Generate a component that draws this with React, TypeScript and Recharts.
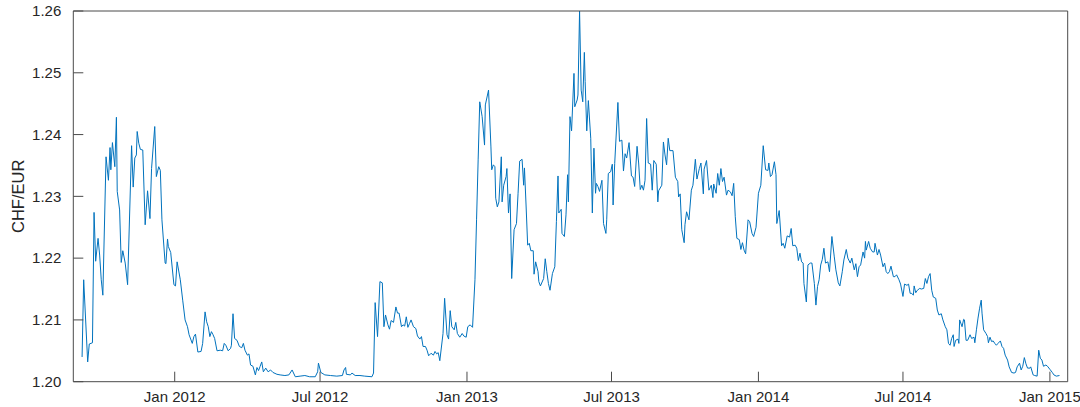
import React from 'react';
import { LineChart, Line, XAxis, YAxis } from 'recharts';

// x values: days since 1 Jan 2012
const dayOffsets = [
  -116, -114, -109, -107, -103, -101, -99, -96, -94, -92, -90, -86, -83, -81, -80, -78, -75, -73, -72, -69,
  -67, -65, -62, -59, -54, -52, -50, -48, -47, -45, -43, -40, -37, -34, -31, -29, -25, -23, -20, -18,
  -16, -12, -11, -9, -8, -5, -1, 1, 3, 7, 10, 13, 16, 18, 22, 24, 26, 29, 33, 35,
  38, 40, 42, 44, 46, 48, 50, 53, 57, 60, 62, 64, 67, 70, 71, 73, 75, 78, 81, 84,
  86, 88, 91, 93, 95, 98, 101, 103, 105, 107, 109, 111, 114, 117, 120, 123, 128, 132, 138, 143,
  147, 151, 157, 163, 169, 176, 179, 180, 183, 188, 195, 203, 210, 212, 214, 215, 220, 222, 226, 232,
  238, 247, 249, 251, 254, 257, 260, 262, 264, 267, 269, 271, 274, 277, 279, 281, 284, 286, 288, 290,
  292, 294, 296, 299, 302, 304, 307, 309, 311, 314, 316, 318, 321, 324, 326, 328, 330, 332, 336, 338,
  341, 343, 345, 347, 350, 352, 354, 357, 360, 362, 365, 367, 370, 373, 376, 378, 380, 382, 385, 388,
  389, 393, 396, 397, 399, 401, 402, 404, 406, 409, 410, 412, 415, 416, 418, 420, 422, 425, 428, 430,
  432, 435, 437, 438, 440, 442, 444, 446, 449, 450, 452, 455, 456, 458, 462, 464, 466, 468, 470, 473,
  476, 478, 480, 481, 484, 485, 488, 490, 492, 493, 495, 497, 500, 501, 504, 505, 507, 509, 511, 513,
  514, 516, 518, 521, 523, 525, 527, 528, 530, 532, 535, 537, 540, 541, 543, 546, 548, 549, 551, 555,
  557, 560, 562, 564, 566, 569, 572, 574, 576, 579, 581, 583, 585, 587, 589, 591, 593, 596, 598, 600,
  603, 605, 606, 610, 612, 614, 616, 618, 620, 624, 627, 630, 631, 633, 635, 638, 639, 641, 644, 647,
  649, 652, 654, 657, 659, 662, 663, 666, 669, 672, 674, 675, 678, 680, 682, 684, 686, 688, 691, 693,
  696, 698, 700, 702, 704, 707, 709, 711, 713, 715, 718, 720, 723, 725, 728, 731, 734, 737, 740, 743,
  744, 746, 748, 751, 753, 754, 757, 760, 762, 764, 767, 770, 772, 774, 777, 779, 781, 783, 785, 787,
  788, 791, 793, 796, 798, 801, 803, 805, 807, 809, 811, 813, 815, 818, 820, 823, 826, 828, 831, 833,
  836, 838, 841, 843, 846, 848, 851, 853, 855, 857, 859, 862, 864, 865, 866, 869, 871, 874, 876, 877,
  880, 882, 884, 887, 889, 891, 893, 895, 897, 900, 902, 904, 907, 909, 912, 914, 917, 919, 921, 923,
  925, 926, 928, 930, 933, 935, 938, 940, 942, 944, 946, 948, 950, 953, 955, 957, 960, 962, 965, 967,
  969, 971, 973, 975, 976, 978, 981, 982, 983, 986, 988, 989, 991, 993, 996, 998, 1001, 1002, 1004, 1006,
  1008, 1010, 1011, 1013, 1016, 1018, 1019, 1021, 1023, 1025, 1027, 1029, 1031, 1034, 1036, 1038, 1040, 1043, 1045, 1048,
  1051, 1053, 1055, 1058, 1060, 1062, 1064, 1066, 1068, 1071, 1072, 1075, 1077, 1080, 1082, 1084, 1086, 1088, 1091, 1093,
  1096, 1099, 1101, 1104, 1108,
];

const chfPerEur = [
  1.2040, 1.2165, 1.2032, 1.2061, 1.2063, 1.2274, 1.2195, 1.2232, 1.2205, 1.2165, 1.2140, 1.2364, 1.2326, 1.2379, 1.2343, 1.2387, 1.2348, 1.2428, 1.2308, 1.2278,
  1.2193, 1.2212, 1.2192, 1.2157, 1.2382, 1.2315, 1.2362, 1.2367, 1.2405, 1.2386, 1.2376, 1.2375, 1.2254, 1.2309, 1.2264, 1.2345, 1.2413, 1.2332, 1.2348, 1.2342,
  1.2262, 1.2192, 1.2191, 1.2231, 1.2219, 1.2209, 1.2157, 1.2155, 1.2194, 1.2165, 1.2132, 1.2100, 1.2089, 1.2076, 1.2062, 1.2073, 1.2077, 1.2048, 1.2049, 1.2062,
  1.2113, 1.2097, 1.2089, 1.2073, 1.2081, 1.2076, 1.2070, 1.2050, 1.2051, 1.2050, 1.2062, 1.2059, 1.2050, 1.2054, 1.2059, 1.2110, 1.2070, 1.2067, 1.2057, 1.2055,
  1.2062, 1.2051, 1.2043, 1.2045, 1.2027, 1.2025, 1.2011, 1.2023, 1.2018, 1.2025, 1.2032, 1.2016, 1.2022, 1.2016, 1.2019, 1.2015, 1.2012, 1.2011, 1.2010, 1.2011,
  1.2019, 1.2008, 1.2009, 1.2010, 1.2008, 1.2008, 1.2016, 1.2030, 1.2015, 1.2011, 1.2010, 1.2009, 1.2010, 1.2019, 1.2023, 1.2012, 1.2011, 1.2014, 1.2010, 1.2010,
  1.2009, 1.2008, 1.2014, 1.2128, 1.2073, 1.2162, 1.2160, 1.2089, 1.2108, 1.2092, 1.2085, 1.2099, 1.2096, 1.2121, 1.2111, 1.2111, 1.2089, 1.2092, 1.2090, 1.2105,
  1.2088, 1.2094, 1.2100, 1.2089, 1.2086, 1.2074, 1.2069, 1.2073, 1.2057, 1.2057, 1.2051, 1.2042, 1.2046, 1.2043, 1.2049, 1.2045, 1.2047, 1.2034, 1.2078, 1.2135,
  1.2076, 1.2069, 1.2115, 1.2089, 1.2084, 1.2096, 1.2078, 1.2072, 1.2078, 1.2074, 1.2072, 1.2089, 1.2092, 1.2088, 1.2165, 1.2262, 1.2359, 1.2453, 1.2429, 1.2383,
  1.2448, 1.2472, 1.2380, 1.2343, 1.2351, 1.2348, 1.2297, 1.2283, 1.2291, 1.2364, 1.2291, 1.2318, 1.2332, 1.2345, 1.2273, 1.2304, 1.2167, 1.2246, 1.2256, 1.2305,
  1.2357, 1.2360, 1.2318, 1.2346, 1.2286, 1.2221, 1.2224, 1.2212, 1.2212, 1.2174, 1.2194, 1.2178, 1.2162, 1.2155, 1.2167, 1.2199, 1.2178, 1.2159, 1.2148, 1.2175,
  1.2186, 1.2259, 1.2333, 1.2273, 1.2279, 1.2240, 1.2235, 1.2270, 1.2335, 1.2291, 1.2429, 1.2406, 1.2499, 1.2445, 1.2456, 1.2464, 1.2600, 1.2472, 1.2453, 1.2533,
  1.2486, 1.2406, 1.2455, 1.2394, 1.2273, 1.2378, 1.2305, 1.2321, 1.2316, 1.2308, 1.2326, 1.2256, 1.2240, 1.2262, 1.2337, 1.2340, 1.2352, 1.2286, 1.2353, 1.2452,
  1.2389, 1.2391, 1.2341, 1.2369, 1.2362, 1.2387, 1.2333, 1.2331, 1.2316, 1.2381, 1.2354, 1.2311, 1.2318, 1.2310, 1.2326, 1.2426, 1.2354, 1.2352, 1.2310, 1.2358,
  1.2352, 1.2291, 1.2309, 1.2318, 1.2388, 1.2367, 1.2351, 1.2394, 1.2374, 1.2374, 1.2331, 1.2324, 1.2299, 1.2304, 1.2246, 1.2225, 1.2254, 1.2275, 1.2262, 1.2310,
  1.2318, 1.2360, 1.2328, 1.2345, 1.2354, 1.2304, 1.2344, 1.2358, 1.2310, 1.2318, 1.2298, 1.2320, 1.2305, 1.2337, 1.2318, 1.2345, 1.2324, 1.2331, 1.2302, 1.2310,
  1.2307, 1.2301, 1.2321, 1.2267, 1.2232, 1.2230, 1.2214, 1.2225, 1.2213, 1.2207, 1.2262, 1.2259, 1.2240, 1.2235, 1.2250, 1.2305, 1.2318, 1.2382, 1.2343, 1.2342,
  1.2354, 1.2332, 1.2335, 1.2356, 1.2335, 1.2256, 1.2277, 1.2220, 1.2224, 1.2216, 1.2236, 1.2234, 1.2248, 1.2220, 1.2221, 1.2216, 1.2196, 1.2208, 1.2194, 1.2192,
  1.2159, 1.2129, 1.2189, 1.2192, 1.2192, 1.2159, 1.2124, 1.2154, 1.2165, 1.2189, 1.2198, 1.2216, 1.2192, 1.2194, 1.2178, 1.2235, 1.2202, 1.2181, 1.2160, 1.2155,
  1.2178, 1.2197, 1.2214, 1.2200, 1.2192, 1.2200, 1.2181, 1.2191, 1.2170, 1.2186, 1.2189, 1.2210, 1.2200, 1.2227, 1.2213, 1.2227, 1.2216, 1.2210, 1.2210, 1.2224,
  1.2205, 1.2214, 1.2205, 1.2186, 1.2192, 1.2178, 1.2175, 1.2178, 1.2187, 1.2170, 1.2170, 1.2173, 1.2165, 1.2158, 1.2138, 1.2158, 1.2156, 1.2158, 1.2143, 1.2143,
  1.2140, 1.2155, 1.2144, 1.2148, 1.2151, 1.2150, 1.2151, 1.2167, 1.2159, 1.2170, 1.2175, 1.2148, 1.2137, 1.2135, 1.2116, 1.2108, 1.2110, 1.2100, 1.2089, 1.2084,
  1.2062, 1.2059, 1.2070, 1.2076, 1.2057, 1.2067, 1.2069, 1.2062, 1.2100, 1.2089, 1.2101, 1.2100, 1.2067, 1.2067, 1.2076, 1.2070, 1.2072, 1.2063, 1.2084, 1.2103,
  1.2119, 1.2132, 1.2111, 1.2084, 1.2078, 1.2073, 1.2063, 1.2072, 1.2065, 1.2066, 1.2062, 1.2059, 1.2062, 1.2066, 1.2057, 1.2054, 1.2043, 1.2035, 1.2024, 1.2015,
  1.2014, 1.2015, 1.2024, 1.2030, 1.2019, 1.2025, 1.2039, 1.2029, 1.2022, 1.2022, 1.2024, 1.2011, 1.2010, 1.2009, 1.2051, 1.2038, 1.2035, 1.2025, 1.2027, 1.2025,
  1.2020, 1.2015, 1.2011, 1.2009, 1.2010,
];

const xTickDays = [0, 182, 366, 547, 731, 912, 1096];
const xTickLabels = ['Jan 2012', 'Jul 2012', 'Jan 2013', 'Jul 2013', 'Jan 2014', 'Jul 2014', 'Jan 2015'];
const yTicks = [1.2, 1.21, 1.22, 1.23, 1.24, 1.25, 1.26];
const yLabel = 'CHF/EUR';

const data = dayOffsets.map((d, i) => ({ d, v: chfPerEur[i] }));

const FONT = '"Liberation Sans", Arial, Helvetica, sans-serif';
const TEXT = '#262626';
const AXIS = '#4a4a4a';
const tickStyle = { fontSize: 15, fill: TEXT, fontFamily: FONT };
const xDomain: [number, number] = [-127, 1118.3];
const yDomain: [number, number] = [1.2, 1.26];

const fmtX = (v: number) => {
  const i = xTickDays.indexOf(v);
  return i >= 0 ? xTickLabels[i] : '';
};

export default function App() {
  return (
    <div style={{ position: 'absolute', left: 0, top: 0, width: 1080, height: 407, background: '#fff' }}>
      <LineChart
        width={1080}
        height={407}
        data={data}
        margin={{ top: 10, right: 11.3, bottom: 0.3, left: 0.3 }}
      >
        <XAxis
          dataKey="d"
          type="number"
          domain={xDomain}
          allowDataOverflow
          ticks={xTickDays}
          interval={0}
          tickFormatter={fmtX}
          height={25}
          tickSize={-10}
          tickMargin={20}
          tick={tickStyle}
          stroke={AXIS}
          axisLine={{ stroke: AXIS }}
          tickLine={{ stroke: AXIS }}
        />
        <XAxis
          xAxisId="top"
          dataKey="d"
          type="number"
          orientation="top"
          domain={xDomain}
          allowDataOverflow
          ticks={xTickDays}
          interval={0}
          height={1}
          tickSize={-10}
          tick={false}
          axisLine={{ stroke: AXIS }}
          tickLine={{ stroke: AXIS }}
        />
        <YAxis
          type="number"
          domain={yDomain}
          allowDataOverflow
          ticks={yTicks}
          interval={0}
          tickFormatter={(v: number) => v.toFixed(2)}
          width={73}
          tickSize={-10}
          tickMargin={22}
          tick={tickStyle}
          axisLine={{ stroke: AXIS }}
          tickLine={{ stroke: AXIS }}
          label={{
            value: yLabel,
            content: (props: any) => {
              const vb = props.viewBox || { x: 0, y: 11, width: 73, height: 370 };
              const cx = 18;
              const cy = vb.y + vb.height / 2;
              return (
                <text
                  x={cx}
                  y={cy}
                  transform={`rotate(-90 ${cx} ${cy})`}
                  textAnchor="middle"
                  dominantBaseline="central"
                  style={{ fontSize: 16.5, fill: TEXT, fontFamily: FONT }}
                >
                  {yLabel}
                </text>
              );
            },
          }}
        />
        <YAxis
          yAxisId="right"
          orientation="right"
          type="number"
          domain={yDomain}
          allowDataOverflow
          ticks={yTicks}
          interval={0}
          width={1}
          tickSize={-10}
          tick={false}
          axisLine={{ stroke: AXIS }}
          tickLine={{ stroke: AXIS }}
        />
        <Line
          type="linear"
          dataKey="v"
          stroke="#0072BD"
          strokeWidth={1}
          dot={false}
          activeDot={false}
          isAnimationActive={false}
        />
      </LineChart>
    </div>
  );
}
